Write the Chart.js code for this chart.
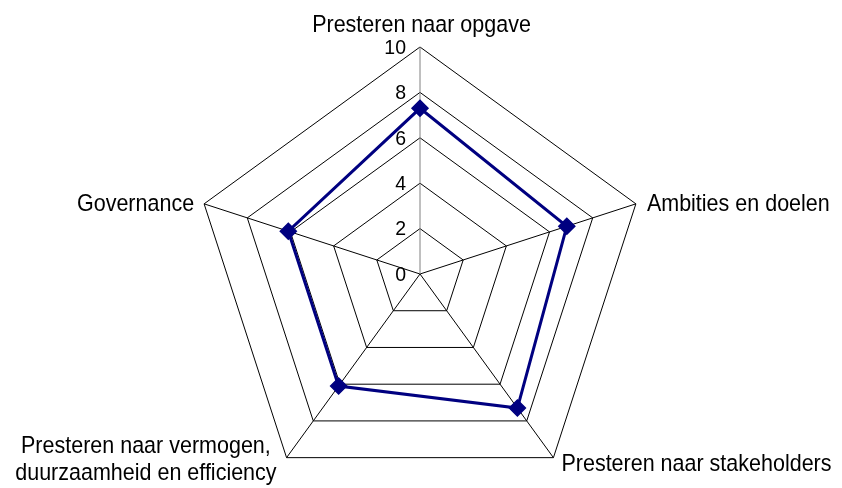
<!DOCTYPE html>
<html>
<head>
<meta charset="utf-8">
<script src="https://cdn.jsdelivr.net/npm/chart.js@4/dist/chart.umd.min.js"></script>
<style>
  html, body { margin: 0; padding: 0; background: #ffffff; }
  #wrap { width: 842px; height: 488px; position: relative; }
</style>
</head>
<body>
<div id="wrap"><canvas id="radar"></canvas></div>
<script>
// Scores per dimension (scale 0-10)
const categories = [
  'Presteren naar opgave',
  'Ambities en doelen',
  'Presteren naar stakeholders',
  ['Presteren naar vermogen,', 'duurzaamheid en efficiency'],
  'Governance'
];
const scores = [7.3, 6.8, 7.3, 6.1, 6.1];
const tickValues = [0, 2, 4, 6, 8, 10];

const FONT = "'Liberation Sans', Arial, sans-serif";
const RADIUS = 227;       // outer ring radius in px
const TEXT_STRETCH = 1.08; // slightly tall lettering

function fillTall(ctx, text, x, y) {
  ctx.save();
  ctx.translate(x, y);
  ctx.scale(1, TEXT_STRETCH);
  ctx.fillText(text, 0, 0);
  ctx.restore();
}

// Axis titles and value ticks are drawn on top of the radial scale
const labelPlugin = {
  id: 'radarText',
  afterDraw(chart) {
    const scale = chart.scales.r;
    const ctx = chart.ctx;
    ctx.save();
    ctx.fillStyle = '#000000';

    // value ticks, left of the vertical axis
    ctx.font = '19.5px ' + FONT;
    ctx.textAlign = 'right';
    ctx.textBaseline = 'middle';
    tickValues.forEach(v => {
      const d = scale.getDistanceFromCenterForValue(v);
      fillTall(ctx, String(v), scale.xCenter - 14, scale.yCenter - d + 1);
    });

    // category titles around the outer ring
    ctx.font = '21.5px ' + FONT;
    ctx.textBaseline = 'alphabetic';
    const r = scale.drawingArea;
    categories.forEach((label, i) => {
      const p = scale.getPointPosition(i, r);
      if (i === 0) {
        ctx.textAlign = 'center';
        fillTall(ctx, label, p.x + 1.5, p.y - 15);
      } else if (i === 1) {
        ctx.textAlign = 'left';
        fillTall(ctx, label, p.x + 11, p.y + 7.3);
      } else if (i === 2) {
        ctx.textAlign = 'left';
        fillTall(ctx, label, p.x + 8, p.y + 13.6);
      } else if (i === 3) {
        const lines = Array.isArray(label) ? label : [label];
        const w = Math.max(...lines.map(l => ctx.measureText(l).width));
        const cx = p.x - 10 - w / 2;
        ctx.textAlign = 'center';
        lines.forEach((l, k) => fillTall(ctx, l, cx, p.y - 4.8 + k * 26.7));
      } else {
        ctx.textAlign = 'right';
        fillTall(ctx, label, p.x - 10, p.y + 7.3);
      }
    });
    ctx.restore();
  }
};

new Chart(document.getElementById('radar'), {
  type: 'radar',
  data: {
    labels: categories,
    datasets: [{
      data: scores,
      borderColor: '#000080',
      backgroundColor: 'rgba(0,0,0,0)',
      borderWidth: 3,
      fill: false,
      pointStyle: 'rectRot',
      pointRadius: 8,
      pointBorderWidth: 1.5,
      pointBackgroundColor: '#000080',
      pointBorderColor: '#000080',
      clip: false
    }]
  },
  options: {
    responsive: true,
    maintainAspectRatio: false,
    animation: false,
    events: [],
    layout: { padding: { top: 47, bottom: 0, left: 0, right: 1 } },
    plugins: {
      legend: { display: false },
      tooltip: { enabled: false }
    },
    elements: { line: { tension: 0 } },
    scales: {
      r: {
        min: 0,
        max: 10,
        // the lower vertices sit close to the bottom edge, so the ring size is fixed
        afterFit(scale) {
          scale.drawingArea = RADIUS;
          scale.yCenter = Math.floor(scale.top) + RADIUS;
        },
        ticks: { display: false, stepSize: 2 },
        pointLabels: { display: false },
        grid: { circular: false, color: '#000000', lineWidth: 1 },
        angleLines: {
          display: true,
          lineWidth: 1,
          color: ctx => (ctx.index === 0 ? '#808080' : '#000000')
        }
      }
    }
  },
  plugins: [labelPlugin]
});
</script>
</body>
</html>
